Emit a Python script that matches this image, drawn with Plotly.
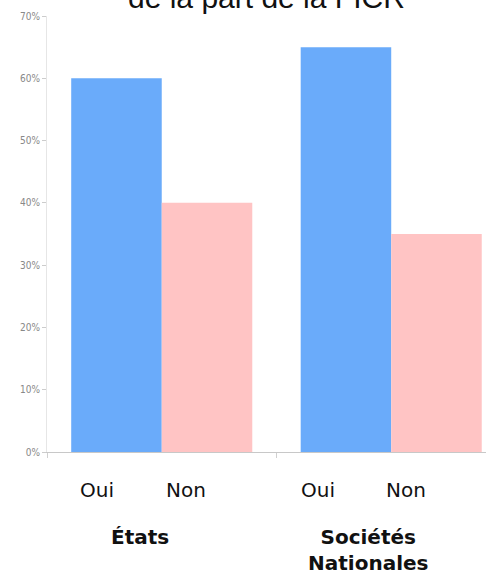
import plotly.graph_objects as go

groups = ["États", "Sociétés Nationales"]
group_labels = ["<b>États</b>", "<b>Sociétés<br>Nationales</b>"]
oui = [0.60, 0.65]
non = [0.40, 0.35]
answer_labels = ["Oui", "Non"]
y_ticks = [0, 0.1, 0.2, 0.3, 0.4, 0.5, 0.6, 0.7]
y_ticktext = ["0%", "10%", "20%", "30%", "40%", "50%", "60%", "70%"]
title_text = "de la part de la FICR"

fig = go.Figure()
fig.add_trace(go.Bar(x=groups, y=oui, name="Oui", marker=dict(color="#6aabfa", line=dict(width=0))))
fig.add_trace(go.Bar(x=groups, y=non, name="Non", marker=dict(color="#ffc4c4", line=dict(width=0))))

H = 436.0
def py(p):
    return (452 - p) / H

ann = []
ans_x = [(-0.282, 0.106), (0.681, 1.064)]
for gi in range(2):
    for ai in range(2):
        ann.append(dict(x=ans_x[gi][ai], y=py(489.5), xref="x", yref="paper",
                        text=answer_labels[ai], showarrow=False, yanchor="middle",
                        font=dict(family="DejaVu Sans", size=20, color="#111")))
grp_x = [-0.095, 0.899]
for gi in range(2):
    ann.append(dict(x=grp_x[gi], y=py(523), xref="x", yref="paper",
                    text=group_labels[gi], showarrow=False, yanchor="top",
                    font=dict(family="DejaVu Sans", size=20, color="#111")))
ann.append(dict(x=0.5, xref="paper", y=py(16), yref="paper", text=title_text,
                showarrow=False, yanchor="bottom", xanchor="center",
                font=dict(family="Liberation Sans", size=30, color="#111")))

fig.update_layout(
    width=486, height=574,
    margin=dict(l=47, r=0, t=16, b=122, pad=0),
    paper_bgcolor="white", plot_bgcolor="white",
    barmode="group", bargap=0.211, bargroupgap=0,
    showlegend=False,
    annotations=ann,
    xaxis=dict(range=[-0.5, 1.413], showticklabels=False, showgrid=False,
               showline=True, linecolor="#c8c8c8", linewidth=1,
               ticks="outside", tickson="boundaries", ticklen=5, tickcolor="#d0d0d0",
               zeroline=False),
    yaxis=dict(range=[0, 0.70], tickvals=y_ticks, ticktext=y_ticktext,
               showgrid=False, zeroline=False, showline=True, linecolor="#e6e6e6",
               linewidth=1, ticks="outside", ticklen=4, tickcolor="#cccccc",
               tickfont=dict(family="Liberation Sans Narrow, DejaVu Sans Condensed, Roboto Condensed, Roboto",
                             size=10, color="#888888")),
)

fig.write_html("out.html")
